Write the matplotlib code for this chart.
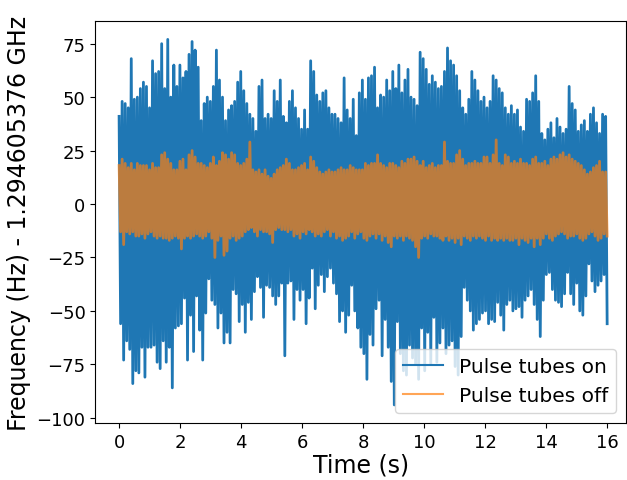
import matplotlib
matplotlib.use("Agg")
import matplotlib.pyplot as plt
import numpy as np

# peak values every 0.1 s (upper / lower envelope of each trace)
on_hi = [41, 48, 47, 45, 68, 49, 50, 54, 57, 55,
         45, 67, 61, 62, 75, 54, 77, 50, 65, 55,
         65, 59, 62, 70, 76, 72, 64, 39, 47, 50,
         48, 55, 72, 58, 50, 39, 44, 46, 48, 57,
         62, 53, 47, 42, 40, 34, 55, 58, 40, 42,
         40, 53, 48, 58, 41, 38, 48, 53, 45, 40,
         35, 44, 35, 67, 62, 51, 48, 52, 53, 45,
         42, 42, 40, 38, 59, 44, 40, 49, 32, 52,
         58, 49, 59, 60, 64, 45, 51, 50, 58, 53,
         62, 54, 65, 52, 58, 63, 50, 49, 46, 71,
         68, 63, 56, 60, 57, 54, 55, 62, 73, 67,
         65, 60, 53, 45, 42, 49, 62, 58, 53, 48,
         50, 45, 48, 60, 58, 54, 52, 45, 42, 46,
         42, 44, 36, 34, 49, 48, 52, 60, 48, 33,
         30, 35, 38, 31, 40, 36, 33, 35, 55, 47,
         44, 34, 37, 39, 34, 42, 45, 38, 33, 42,
         41]
on_lo = [-56, -73, -64, -68, -84, -78, -79, -67, -81, -67,
         -67, -66, -74, -77, -64, -74, -67, -86, -58, -57,
         -56, -44, -73, -52, -69, -43, -59, -73, -51, -35,
         -45, -47, -58, -51, -65, -60, -65, -40, -42, -55,
         -47, -60, -46, -54, -41, -34, -39, -53, -38, -39,
         -43, -47, -43, -37, -71, -37, -36, -54, -40, -45,
         -40, -56, -44, -30, -49, -38, -33, -41, -34, -30,
         -37, -42, -55, -50, -60, -52, -38, -50, -58, -67,
         -70, -82, -61, -66, -49, -45, -71, -54, -67, -83,
         -94, -55, -70, -78, -80, -66, -72, -75, -82, -58,
         -78, -60, -75, -53, -74, -65, -58, -70, -66, -64,
         -76, -80, -62, -39, -45, -50, -59, -56, -54, -51,
         -50, -56, -54, -55, -46, -52, -59, -47, -45, -50,
         -49, -48, -53, -45, -43, -40, -47, -54, -62, -45,
         -33, -32, -40, -45, -46, -48, -42, -32, -42, -47,
         -37, -50, -52, -43, -28, -36, -41, -38, -36, -33,
         -56]
off_hi = [18, 21, 19, 17, 19, 16, 19, 18, 18, 18,
          16, 19, 17, 17, 23, 24, 21, 19, 16, 16,
          20, 21, 16, 23, 25, 22, 19, 19, 18, 17,
          19, 22, 18, 20, 24, 23, 21, 24, 23, 19,
          18, 19, 21, 29, 16, 15, 16, 14, 16, 13,
          12, 14, 16, 17, 18, 21, 19, 16, 16, 17,
          18, 19, 16, 22, 20, 17, 15, 14, 15, 16,
          15, 15, 16, 17, 16, 16, 18, 17, 16, 16,
          16, 19, 18, 19, 19, 23, 19, 18, 17, 19,
          19, 18, 17, 20, 19, 21, 21, 22, 20, 18,
          20, 17, 18, 19, 17, 18, 18, 29, 20, 19,
          19, 23, 25, 21, 18, 19, 19, 20, 19, 19,
          22, 22, 19, 23, 30, 19, 18, 23, 22, 19,
          20, 19, 21, 19, 19, 18, 21, 22, 19, 19,
          20, 18, 21, 22, 21, 23, 24, 22, 23, 21,
          20, 19, 18, 16, 14, 15, 17, 18, 20, 15,
          15]
off_lo = [-13, -19, -13, -14, -13, -15, -15, -14, -16, -14,
          -13, -15, -16, -15, -16, -16, -17, -16, -15, -16,
          -21, -16, -15, -16, -15, -14, -15, -16, -15, -13,
          -16, -25, -17, -15, -24, -22, -16, -15, -17, -16,
          -15, -13, -12, -11, -13, -15, -12, -13, -13, -14,
          -18, -12, -11, -12, -12, -13, -12, -15, -14, -16,
          -13, -14, -12, -13, -15, -14, -15, -13, -12, -15,
          -13, -16, -15, -17, -16, -15, -13, -16, -14, -13,
          -16, -17, -15, -14, -16, -14, -17, -15, -18, -20,
          -15, -16, -15, -17, -15, -16, -17, -20, -25, -16,
          -15, -16, -14, -15, -15, -16, -17, -15, -17, -16,
          -18, -16, -19, -15, -16, -17, -15, -16, -15, -16,
          -17, -15, -17, -16, -17, -16, -17, -16, -17, -17,
          -16, -19, -16, -17, -18, -16, -20, -16, -19, -16,
          -14, -16, -17, -15, -14, -13, -14, -16, -15, -15,
          -14, -16, -17, -16, -14, -13, -15, -17, -16, -14,
          -15]

t_end = 16.0


def trace(hi, lo):
    vals = np.empty(2 * len(hi))
    vals[0::2] = hi
    vals[1::2] = lo
    return np.linspace(0, t_end, len(vals)), vals


fig = plt.figure(figsize=(6.27, 4.81), dpi=100)
ax = fig.add_axes([0.152, 0.118, 0.847, 0.836])

t_on, f_on = trace(on_hi, on_lo)
t_off, f_off = trace(off_hi, off_lo)
ax.plot(t_on, f_on, color='C0', lw=2, label='Pulse tubes on')
ax.plot(t_off, f_off, color='C1', lw=2, alpha=0.7, label='Pulse tubes off')

ax.set_xlim(-0.78, 16.63)
ax.set_xticks(np.arange(0, 17, 2))
ax.tick_params(labelsize=13)
ax.set_xlabel('Time (s)', fontsize=17, labelpad=1)
ax.set_ylabel('Frequency (Hz) - 1.294605376 GHz', fontsize=17)

leg = ax.legend(loc='lower right', fontsize=14.5)
for h in leg.legend_handles:
    h.set_linewidth(1.5)

fig.savefig('out.png', dpi=100)
